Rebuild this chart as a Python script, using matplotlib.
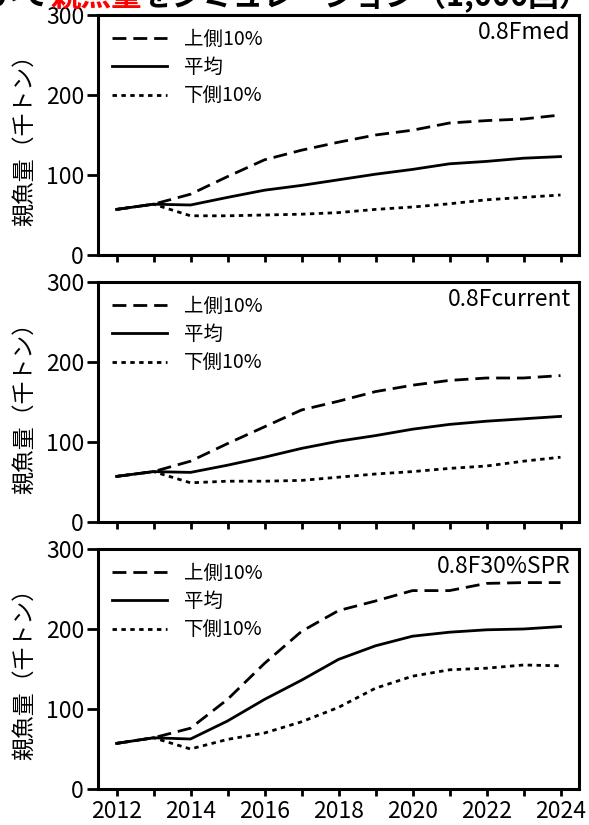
import matplotlib
matplotlib.use("Agg")
import matplotlib.pyplot as plt

plt.rcParams['font.family'] = ['Noto Sans CJK JP', 'DejaVu Sans']

years = list(range(2012, 2025))
scenarios = ["0.8Fmed", "0.8Fcurrent", "0.8F30%SPR"]
labels = ["上側10%", "平均", "下側10%"]

upper_fmed = [57, 63.5, 76, 98, 119, 131, 141, 150, 156, 165, 168, 170, 175]
mean_fmed = [57, 63.5, 62.5, 72, 81, 87, 94, 101, 107, 114, 117, 121, 123]
lower_fmed = [57, 63.5, 49, 49, 50, 51, 53, 57, 60, 64, 69, 72, 75]

upper_fcur = [57, 63, 76, 98, 119, 140, 151, 163, 171, 177, 180, 180, 183]
mean_fcur = [57, 63, 62, 71, 81, 92, 101, 108, 116, 122, 126, 129, 132]
lower_fcur = [57, 63, 49, 51, 51, 52, 56, 60, 63, 67, 70, 76, 81]

upper_spr = [57, 64, 76, 112, 157, 197, 223, 235, 248, 248, 257, 258, 258]
mean_spr = [57, 64, 62.5, 85, 112, 136, 162, 179, 191, 196, 199, 200, 203]
lower_spr = [57, 64, 50, 62, 70, 84, 102, 126, 141, 149, 151, 155, 154]

series = [
    (upper_fmed, mean_fmed, lower_fmed),
    (upper_fcur, mean_fcur, lower_fcur),
    (upper_spr, mean_spr, lower_spr),
]

W, H = 589, 825
fig = plt.figure(figsize=(W / 100, H / 100), dpi=100)

tops = [15, 282, 549]
ax_h = 240
left, right = 98, 579

for i, (sc, (up, mn, lo)) in enumerate(zip(scenarios, series)):
    ax = fig.add_axes([left / W, 1 - (tops[i] + ax_h) / H, (right - left) / W, ax_h / H])
    ax.plot(years, up, color='black', lw=2, dashes=(5, 2.5), label=labels[0])
    ax.plot(years, mn, color='black', lw=2, label=labels[1])
    ax.plot(years, lo, color='black', lw=2, dashes=(1.6, 1.6), label=labels[2])
    ax.set_xlim(2011.5, 2024.5)
    ax.set_ylim(0, 300)
    ax.set_yticks([0, 100, 200, 300])
    ax.set_xticks(years)
    if i == 2:
        ax.set_xticklabels([str(y) if y % 2 == 0 else "" for y in years])
    else:
        ax.set_xticklabels([])
    for s in ax.spines.values():
        s.set_linewidth(2.2)
    ax.tick_params(axis='x', direction='out', length=5, width=2, labelsize=16.5, pad=3)
    ax.tick_params(axis='y', direction='out', length=8, width=2, labelsize=16.5, pad=2)
    ax.set_ylabel("親魚量（千トン）", fontsize=16.5)
    ax.yaxis.set_label_coords(-0.128, 0.5)
    ax.legend(loc='upper left', frameon=False, fontsize=14, handlelength=2.85,
              handletextpad=0.85, labelspacing=0.38, borderaxespad=0.3,
              bbox_to_anchor=(0.0, 1.0))
    ax.text(0.983, 0.975, sc, transform=ax.transAxes, ha='right', va='top', fontsize=16.5)

# title, cut off at the top edge
fig.canvas.draw()
r = fig.canvas.get_renderer()
ty = 1 - 6 / H
tkw = dict(fontsize=22, fontweight='bold', va='baseline')
fig.text(50 / W, ty, "について", ha='right', color='black', **tkw)
red = fig.text(50 / W, ty, "親魚量", ha='left', color='#ff0000', **tkw)
bb = red.get_window_extent(r)
fig.text(bb.x1 / W, ty, "をシミュレーション（1,000回）", ha='left', color='black', **tkw)

fig.savefig("out.png", dpi=100)
